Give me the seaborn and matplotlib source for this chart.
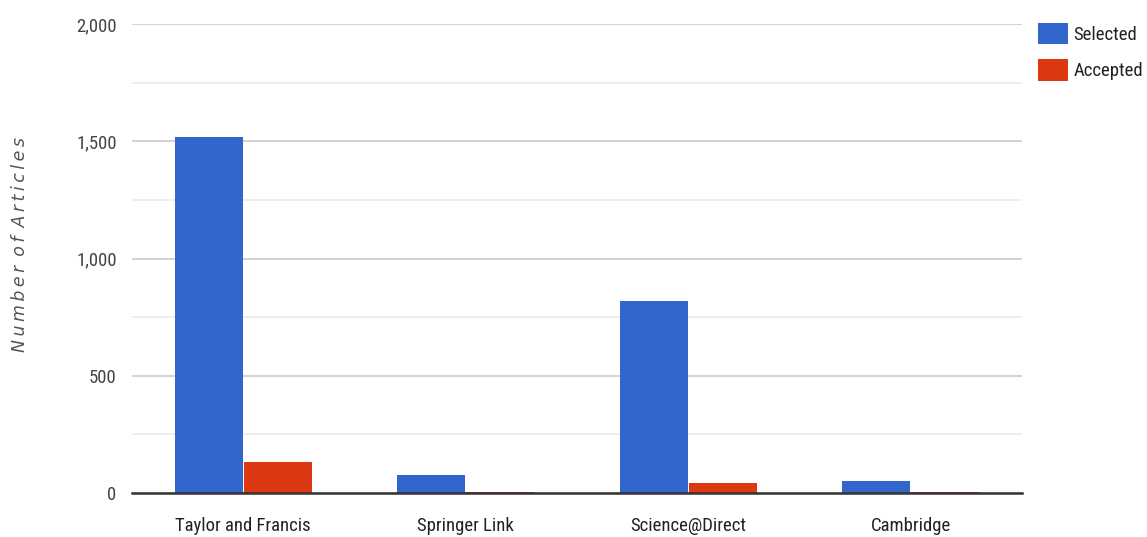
import matplotlib
matplotlib.use("Agg")
import matplotlib.pyplot as plt
import seaborn as sns
import pandas as pd
from matplotlib.ticker import FuncFormatter, MultipleLocator
from matplotlib import font_manager

categories = ["Taylor and Francis", "Springer Link", "Science@Direct", "Cambridge"]
selected = [1520, 76, 820, 52]
accepted = [134, 4, 42, 3]
series_names = ["Selected", "Accepted"]
colors = ["#3366CC", "#DC3912"]

sns.set_theme(style="white")
names = {f.name for f in font_manager.fontManager.ttflist}
cands = ["Liberation Sans Narrow", "Roboto Condensed", "DejaVu Sans Condensed",
         "Open Sans Condensed", "Noto Sans Condensed", "Arial Narrow"]
narrow = next((c for c in cands if c in names), None)
if narrow is None:
    narrow = "Roboto"
    fs = 12
else:
    fs = 13.5
plt.rcParams['font.family'] = [narrow, 'DejaVu Sans']

df = pd.DataFrame({
    "cat": categories * 2,
    "series": [series_names[0]] * len(categories) + [series_names[1]] * len(categories),
    "value": selected + accepted,
})

fig = plt.figure(figsize=(11.47, 5.37), dpi=100)
ax = fig.add_axes([132/1147, 44/537, 890/1147, 469/537])
sns.barplot(data=df, x="cat", y="value", hue="series", palette=colors,
            width=0.62, gap=0.02, saturation=1, ax=ax, legend=True,
            edgecolor="none")

ax.set_ylim(0, 2000)
ax.yaxis.set_major_locator(MultipleLocator(500))
ax.yaxis.set_minor_locator(MultipleLocator(250))
ax.yaxis.set_major_formatter(FuncFormatter(lambda v, p: f"{int(v):,}"))
ax.grid(axis="y", which="major", color="#cccccc", linewidth=1.2, zorder=0)
ax.grid(axis="y", which="minor", color="#ebebeb", linewidth=1.2, zorder=0)
ax.grid(axis="x", visible=False)
ax.set_axisbelow(True)
for s in ["top", "right", "left"]:
    ax.spines[s].set_visible(False)
ax.spines["bottom"].set_color("#333333")
ax.spines["bottom"].set_linewidth(1.8)
ax.tick_params(axis="both", which="both", length=0)
ax.tick_params(axis="y", pad=11, labelsize=fs, labelcolor="#444444")
ax.tick_params(axis="x", pad=17, labelsize=fs, labelcolor="#222222")
ax.set_xlabel("")
label = "\u2009".join("Number of Articles").replace("\u2009 \u2009", "\u2009 ")
ax.set_ylabel(label, fontsize=12.5, style="italic", color="#555555",
              family=["DejaVu Sans"])
ax.yaxis.set_label_coords(-(132 - 29) / 890, 0.53)

handles, labels = ax.get_legend_handles_labels()
leg = ax.legend(handles, labels, loc="upper left", bbox_to_anchor=((1038 - 132) / 890, 1.003),
                frameon=False, fontsize=fs, handlelength=1.6, handleheight=1.4,
                handletextpad=0.3, labelspacing=0.8, borderaxespad=0, borderpad=0)
for t in leg.get_texts():
    t.set_color("#222222")

fig.savefig("out.png", dpi=100)
